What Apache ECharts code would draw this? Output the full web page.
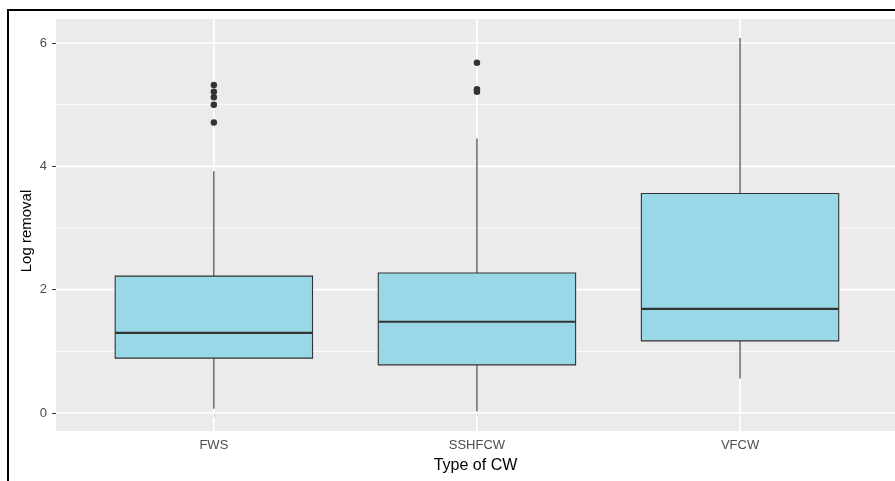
<!DOCTYPE html>
<html>
<head>
<meta charset="utf-8">
<script src="https://cdn.jsdelivr.net/npm/echarts@6/dist/echarts.min.js"></script>
<style>html,body{margin:0;padding:0;background:#fff}#c{width:895px;height:481px}</style>
</head>
<body>
<div id="c"></div>
<script>
// categories and box statistics (min whisker, Q1, median, Q3, max whisker)
var categories = ['FWS', 'SSHFCW', 'VFCW'];
var whiskerLow = [0.07, 0.03, 0.56];
var q1 = [0.89, 0.78, 1.17];
var median = [1.30, 1.48, 1.69];
var q3 = [2.22, 2.27, 3.56];
var whiskerHigh = [3.92, 4.45, 6.08];
// outliers: category index (1-based) and value
var outlierCat = [1, 1, 1, 1, 1, 2, 2, 2];
var outlierVal = [4.71, 5.00, 5.12, 5.21, 5.32, 5.21, 5.25, 5.68];
// ticks
var yTickLabels = [0, 2, 4, 6];
var yGridMajor = [0, 2, 4, 6];
var yGridMinor = [1, 3, 5];
var xTicks = [1, 2, 3];

var boxData = categories.map(function (c, i) {
  return [i + 1, whiskerLow[i], q1[i], median[i], q3[i], whiskerHigh[i]];
});
var outlierData = outlierCat.map(function (c, i) { return [c, outlierVal[i]]; });

var chart = echarts.init(document.getElementById('c'), null, {renderer: 'canvas'});
var font = 'Liberation Sans, Arial, sans-serif';

var option = {
  animation: false,
  grid: {
    left: 56, right: 0, top: 19, bottom: 50,
    show: true, backgroundColor: '#EBEBEB', borderWidth: 0
  },
  xAxis: {
    type: 'value', min: 0.4, max: 3.589,
    axisLine: {show: false},
    splitLine: {show: false},
    axisTick: {show: true, customValues: xTicks, length: 4, lineStyle: {color: '#333333', width: 1}},
    axisLabel: {
      customValues: xTicks, margin: 8, color: '#4D4D4D', fontSize: 13, fontFamily: font,
      formatter: function (v) { return categories[Math.round(v) - 1] || ''; }
    },
    name: 'Type of CW', nameLocation: 'middle', nameGap: 27, nameMoveOverlap: false,
    nameTextStyle: {color: '#000', fontSize: 16, fontFamily: font}
  },
  yAxis: {
    type: 'value', min: -0.292, max: 6.389,
    axisLine: {show: false},
    splitLine: {show: false},
    axisTick: {show: true, customValues: yTickLabels, length: 4, lineStyle: {color: '#333333', width: 1}},
    axisLabel: {customValues: yTickLabels, margin: 9, color: '#4D4D4D', fontSize: 13, fontFamily: font},
    name: 'Log removal', nameLocation: 'middle', nameGap: 22, nameMoveOverlap: false,
    nameTextStyle: {color: '#000', fontSize: 15, fontFamily: font, padding: [0, 12, 0, 0]}
  },
  graphic: [{
    type: 'rect', z: 100, silent: true,
    shape: {x: 8, y: 10, width: 1000, height: 1000},
    style: {fill: 'none', stroke: '#000', lineWidth: 2}
  }],
  series: [
    {
      type: 'custom', name: 'grid', z: 1, silent: true,
      data: [0],
      renderItem: function (params, api) {
        var cs = params.coordSys;
        var children = [];
        yGridMinor.forEach(function (v) {
          var y = api.coord([0.4, v])[1];
          children.push({type: 'line', shape: {x1: cs.x, y1: y, x2: cs.x + cs.width, y2: y},
            style: {stroke: '#FFFFFF', lineWidth: 0.9}});
        });
        yGridMajor.forEach(function (v) {
          var y = api.coord([0.4, v])[1];
          children.push({type: 'line', shape: {x1: cs.x, y1: y, x2: cs.x + cs.width, y2: y},
            style: {stroke: '#FFFFFF', lineWidth: 1.7}});
        });
        xTicks.forEach(function (v) {
          var x = api.coord([v, 0])[0];
          children.push({type: 'line', shape: {x1: x, y1: cs.y, x2: x, y2: cs.y + cs.height},
            style: {stroke: '#FFFFFF', lineWidth: 1.7}});
        });
        return {type: 'group', children: children};
      }
    },
    {
      type: 'custom', name: 'box', z: 2,
      data: boxData,
      encode: {x: 0, y: [1, 2, 3, 4, 5]},
      renderItem: function (params, api) {
        var xv = api.value(0);
        var w = api.size([0.75, 0])[0];
        var pLow = api.coord([xv, api.value(1)]);
        var pQ1 = api.coord([xv, api.value(2)]);
        var pMed = api.coord([xv, api.value(3)]);
        var pQ3 = api.coord([xv, api.value(4)]);
        var pHigh = api.coord([xv, api.value(5)]);
        var cx = pLow[0];
        var stroke = '#333333';
        return {
          type: 'group',
          children: [
            {type: 'line', shape: {x1: cx, y1: pQ3[1], x2: cx, y2: pHigh[1]}, style: {stroke: stroke, lineWidth: 1.1}},
            {type: 'line', shape: {x1: cx, y1: pQ1[1], x2: cx, y2: pLow[1]}, style: {stroke: stroke, lineWidth: 1.1}},
            {type: 'rect', shape: {x: cx - w / 2, y: pQ3[1], width: w, height: pQ1[1] - pQ3[1]},
              style: {fill: '#99D8E6', stroke: stroke, lineWidth: 1.1}},
            {type: 'line', shape: {x1: cx - w / 2, y1: pMed[1], x2: cx + w / 2, y2: pMed[1]},
              style: {stroke: stroke, lineWidth: 2.2}}
          ]
        };
      }
    },
    {
      type: 'scatter', name: 'outliers', z: 3,
      data: outlierData,
      symbol: 'circle', symbolSize: 6.5,
      itemStyle: {color: '#333333', opacity: 1}
    }
  ]
};
chart.setOption(option);
</script>
</body>
</html>
